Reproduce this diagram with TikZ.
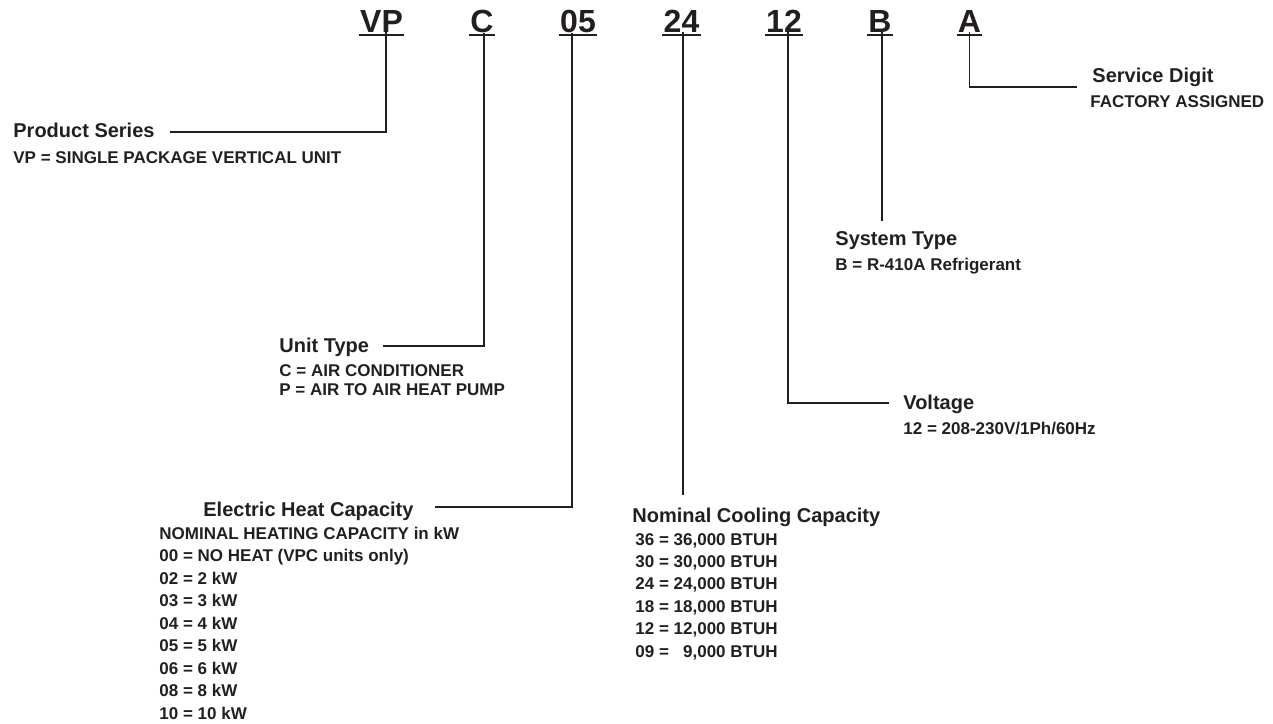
\documentclass[tikz,border=0pt]{standalone}
\usepackage{fontspec}
\setmainfont{Liberation Sans}
\usepackage{xcolor}
\usepackage{tikz}
\usetikzlibrary{positioning}
\definecolor{ink}{HTML}{231F20}

\begin{document}
\begin{tikzpicture}[
  x=0.5pt, y=-0.5pt,
  code/.style={inner sep=0pt, anchor=base, text=ink, font=\fontsize{16}{18}\selectfont\bfseries},
  head/.style={inner sep=0pt, anchor=base west, text=ink, font=\fontsize{10}{12}\selectfont\bfseries},
  item/.style={inner sep=0pt, anchor=base west, text=ink, font=\fontsize{8.5}{10}\selectfont\bfseries},
  lead/.style={draw=ink, line width=0.6pt},
  uline/.style={draw=ink, line width=1pt}
]
\useasboundingbox (0,0) rectangle (1273,723);

% model number digits
\node[code] (vp) at (381.5,32) {VP};
\node[code] (ctype) at (482,32) {C};
\node[code] (heat) at (578,32) {05};
\node[code] (cool) at (681.5,32) {24};
\node[code] (volt) at (784,32) {12};
\node[code] (sys) at (880,32) {B};
\node[code] (svc) at (969.5,32) {A};
\foreach \n in {vp,ctype,heat,cool,volt,sys,svc}
  \draw[uline] ([xshift=-0.5pt,yshift=-1.3pt]\n.base west) -- ([xshift=0.5pt,yshift=-1.3pt]\n.base east);

% headings
\node[head] (series) at (13,137) {Product Series};
\node[item] (seriesv) at (13,163) {VP = SINGLE PACKAGE VERTICAL UNIT};

\node[head] (unittype) at (279,352) {Unit Type};
\node[item] (unit1) at (279,376) {C = AIR CONDITIONER};
\node[item] (unit2) at (279,395) {P = AIR TO AIR HEAT PUMP};

\node[head] (heatcap) at (203,516) {Electric Heat Capacity};
\foreach \t [count=\i from 0] in {NOMINAL HEATING CAPACITY in kW, 00 = NO HEAT (VPC units only),
    02 = 2 kW, 03 = 3 kW, 04 = 4 kW, 05 = 5 kW, 06 = 6 kW, 08 = 8 kW, 10 = 10 kW}
  \node[item] (heat\i) at (159,539+22.5*\i) {\t};

\node[head] (coolcap) at (632,522) {Nominal Cooling Capacity};
\foreach \t [count=\i from 0] in {36 = 36{,}000 BTUH, 30 = 30{,}000 BTUH, 24 = 24{,}000 BTUH,
    18 = 18{,}000 BTUH, 12 = 12{,}000 BTUH, 09 = \hphantom{0}9{,}000 BTUH}
  \node[item] (cool\i) at (635,545+22.4*\i) {\t};

\node[head] (voltage) at (903,409) {Voltage};
\node[item] (voltv) at (903,434) {12 = 208-230V/1Ph/60Hz};

\node[head] (systype) at (835,245) {System Type};
\node[item] (systypev) at (835,270) {B = R-410A Refrigerant};

\node[head] (service) at (1092,82) {Service Digit};
\node[item] (servicev) at (1090,107) {FACTORY ASSIGNED};

% leader lines
\draw[lead] ([xshift=2.25pt]vp.south) |- ([xshift=7.5pt,yshift=2.5pt]series.base east);
\draw[lead] ([xshift=1pt]ctype.south) |- ([xshift=7pt,yshift=3pt]unittype.base east);
\draw[lead] ([xshift=-3pt]heat.south) |- ([xshift=10.5pt,yshift=4.5pt]heatcap.base east);
\draw[lead] ([xshift=0.75pt]cool.south) -- ([xshift=0.75pt,yshift=6pt]cool.south |- coolcap.north);
\draw[lead] ([xshift=2pt]volt.south) |- ([xshift=-7pt,yshift=3pt]voltage.base west);
\draw[lead] ([xshift=1pt]sys.south) -- ([xshift=1pt,yshift=5pt]sys.south |- systype.north);
\draw[lead] (svc.south) |- ([xshift=-7.5pt,yshift=-2.5pt]service.base west);
\end{tikzpicture}
\end{document}
